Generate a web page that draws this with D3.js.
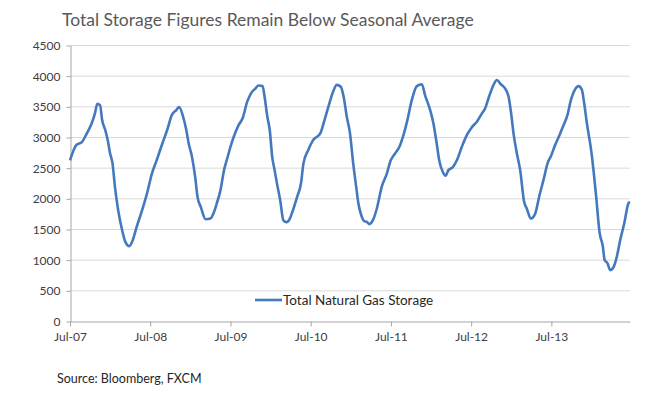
<!DOCTYPE html>
<html>
<head>
<meta charset="utf-8">
<script src="https://cdn.jsdelivr.net/npm/d3@7"></script>
<style>
  body { margin: 0; background: #fff; }
  text { font-family: Lato, "Open Sans", sans-serif; }
</style>
</head>
<body>
<div id="chart"></div>
<script>
// chart size
const width = 657;
const height = 401;
const margins = {top: 45, bottom: 80, left: 70, right: 27};

// data (decimal year, bcf)
const years = [
  2007.50, 2007.58, 2007.65, 2007.71, 2007.77, 2007.81, 2007.84, 2007.875, 2007.90, 2007.94,
  2007.97, 2008.00, 2008.03, 2008.06, 2008.10, 2008.15, 2008.19, 2008.24, 2008.28, 2008.33,
  2008.40, 2008.46, 2008.52, 2008.58, 2008.65, 2008.71, 2008.77, 2008.825, 2008.86, 2008.91,
  2008.95, 2008.98, 2009.02, 2009.06, 2009.09, 2009.13, 2009.19, 2009.25, 2009.29, 2009.33,
  2009.375, 2009.42, 2009.46, 2009.50, 2009.54, 2009.60, 2009.65, 2009.71, 2009.76, 2009.81,
  2009.85, 2009.90, 2009.925, 2009.96, 2009.99, 2010.02, 2010.05, 2010.08, 2010.12, 2010.16,
  2010.20, 2010.24, 2010.28, 2010.33, 2010.38, 2010.41, 2010.47, 2010.53, 2010.62, 2010.66,
  2010.72, 2010.78, 2010.825, 2010.875, 2010.91, 2010.95, 2010.99, 2011.03, 2011.066, 2011.095,
  2011.124, 2011.166, 2011.199, 2011.232, 2011.274, 2011.324, 2011.386, 2011.448, 2011.498, 2011.552,
  2011.606, 2011.656, 2011.706, 2011.76, 2011.823, 2011.885, 2011.926, 2011.989, 2012.03, 2012.064,
  2012.105, 2012.147, 2012.18, 2012.217, 2012.272, 2012.322, 2012.384, 2012.446, 2012.509, 2012.571,
  2012.633, 2012.675, 2012.729, 2012.779, 2012.82, 2012.87, 2012.924, 2012.966, 2012.999, 2013.028,
  2013.07, 2013.111, 2013.161, 2013.194, 2013.244, 2013.298, 2013.352, 2013.402, 2013.452, 2013.498,
  2013.547, 2013.601, 2013.651, 2013.701, 2013.743, 2013.797, 2013.838, 2013.88, 2013.909, 2013.943,
  2013.993, 2014.025, 2014.059, 2014.10, 2014.142, 2014.163, 2014.20, 2014.233, 2014.275, 2014.316,
  2014.358, 2014.408, 2014.461, 2014.48
];
const storage = [
  2620, 2870, 2920, 3060, 3220, 3380, 3540, 3520, 3280, 3110,
  2950, 2730, 2570, 2190, 1810, 1480, 1290, 1220, 1310, 1530,
  1810, 2080, 2400, 2620, 2890, 3110, 3360, 3440, 3490, 3330,
  3110, 2890, 2680, 2350, 2020, 1860, 1660, 1670, 1760, 1920,
  2130, 2460, 2650, 2840, 3000, 3190, 3300, 3580, 3720, 3790,
  3840, 3830, 3660, 3330, 3110, 2680, 2460, 2240, 1970, 1640,
  1610, 1670, 1810, 2020, 2250, 2570, 2790, 2950, 3060, 3220,
  3490, 3740, 3850, 3820, 3660, 3330, 3060, 2570, 2200, 1915,
  1750, 1630, 1615, 1580, 1640, 1830, 2190, 2400, 2620, 2730,
  2840, 3030, 3280, 3600, 3830, 3860, 3680, 3440, 3220, 2950,
  2600, 2430, 2370, 2460, 2510, 2620, 2840, 3030, 3160, 3250,
  3380, 3470, 3680, 3850, 3930, 3860, 3790, 3660, 3380, 3060,
  2730, 2460, 1940, 1830, 1670, 1750, 2050, 2300, 2570, 2700,
  2870, 3030, 3190, 3360, 3600, 3780, 3830, 3770, 3550, 3220,
  2810, 2460, 2020, 1450, 1210, 1000, 940, 830, 880, 1050,
  1320, 1590, 1920, 1940
];
const xTicks = [2007.5, 2008.5, 2009.5, 2010.5, 2011.5, 2012.5, 2013.5];
const xTickLabels = ["Jul-07", "Jul-08", "Jul-09", "Jul-10", "Jul-11", "Jul-12", "Jul-13"];
const yTicks = [0, 500, 1000, 1500, 2000, 2500, 3000, 3500, 4000, 4500];

const title = "Total Storage Figures Remain Below Seasonal Average";
const seriesName = "Total Natural Gas Storage";
const source = "Source: Bloomberg, FXCM";

const data = years.map(function (y, i) {
    return {year: y, value: storage[i]};
});

var svg = d3.select("#chart").append("svg")
    .attr("width", width).attr("height", height);

var x = d3.scaleLinear()
    .domain([2007.5, 2014.48])
    .range([margins.left, width - margins.right]);
var y = d3.scaleLinear()
    .domain([0, 4500])
    .range([height - margins.bottom, margins.top]);

// gridlines
svg.append("g")
    .selectAll("line")
    .data(yTicks.filter(function (d) { return d > 0; }))
    .enter()
    .append("line")
    .attr("x1", x.range()[0]).attr("x2", x.range()[1])
    .attr("y1", function (d) { return y(d) + 0.5; })
    .attr("y2", function (d) { return y(d) + 0.5; })
    .attr("stroke", "#d9d9d9").attr("stroke-width", 1);

// y axis
var yAxis = svg.append("g")
    .attr("transform", "translate(" + (margins.left + 0.5) + ",0.5)")
    .call(d3.axisLeft(y).tickValues(yTicks).tickSize(4).tickSizeOuter(0).tickPadding(6)
        .tickFormat(d3.format("d")));

// x axis
var xAxis = svg.append("g")
    .attr("transform", "translate(0," + (y(0) + 0.5) + ")")
    .call(d3.axisBottom(x).tickValues(xTicks).tickSize(5).tickSizeOuter(0).tickPadding(6)
        .tickFormat(function (d, i) { return xTickLabels[i]; }));

[yAxis, xAxis].forEach(function (a) {
    a.select(".domain").attr("stroke", "#a6a6a6");
    a.selectAll(".tick line").attr("stroke", "#a6a6a6");
    a.selectAll("text")
        .attr("fill", "#404040")
        .style("font-size", "12px")
        .style("font-family", "Lato, sans-serif");
});

// series line
var line = d3.line()
    .x(function (d) { return x(d.year); })
    .y(function (d) { return y(d.value); })
    .curve(d3.curveMonotoneX);

svg.append("path")
    .datum(data)
    .attr("fill", "none")
    .attr("stroke", "#4479bd")
    .attr("stroke-width", 2.6)
    .attr("stroke-linejoin", "round")
    .attr("d", line);

// legend
var legend = svg.append("g").attr("transform", "translate(255,300)");
legend.append("line")
    .attr("x1", 0).attr("x2", 27).attr("y1", 0).attr("y2", 0)
    .attr("stroke", "#4479bd").attr("stroke-width", 2.6);
legend.append("text")
    .attr("x", 28).attr("y", 5)
    .attr("fill", "#262626")
    .style("font-size", "13.5px")
    .text(seriesName);

// title
svg.append("text")
    .attr("x", 62).attr("y", 26)
    .attr("fill", "#595959")
    .style("font-size", "17.5px")
    .text(title);

// source
svg.append("text")
    .attr("x", 57).attr("y", 383)
    .attr("fill", "#262626")
    .style("font-size", "12.5px")
    .text(source);
</script>
</body>
</html>
